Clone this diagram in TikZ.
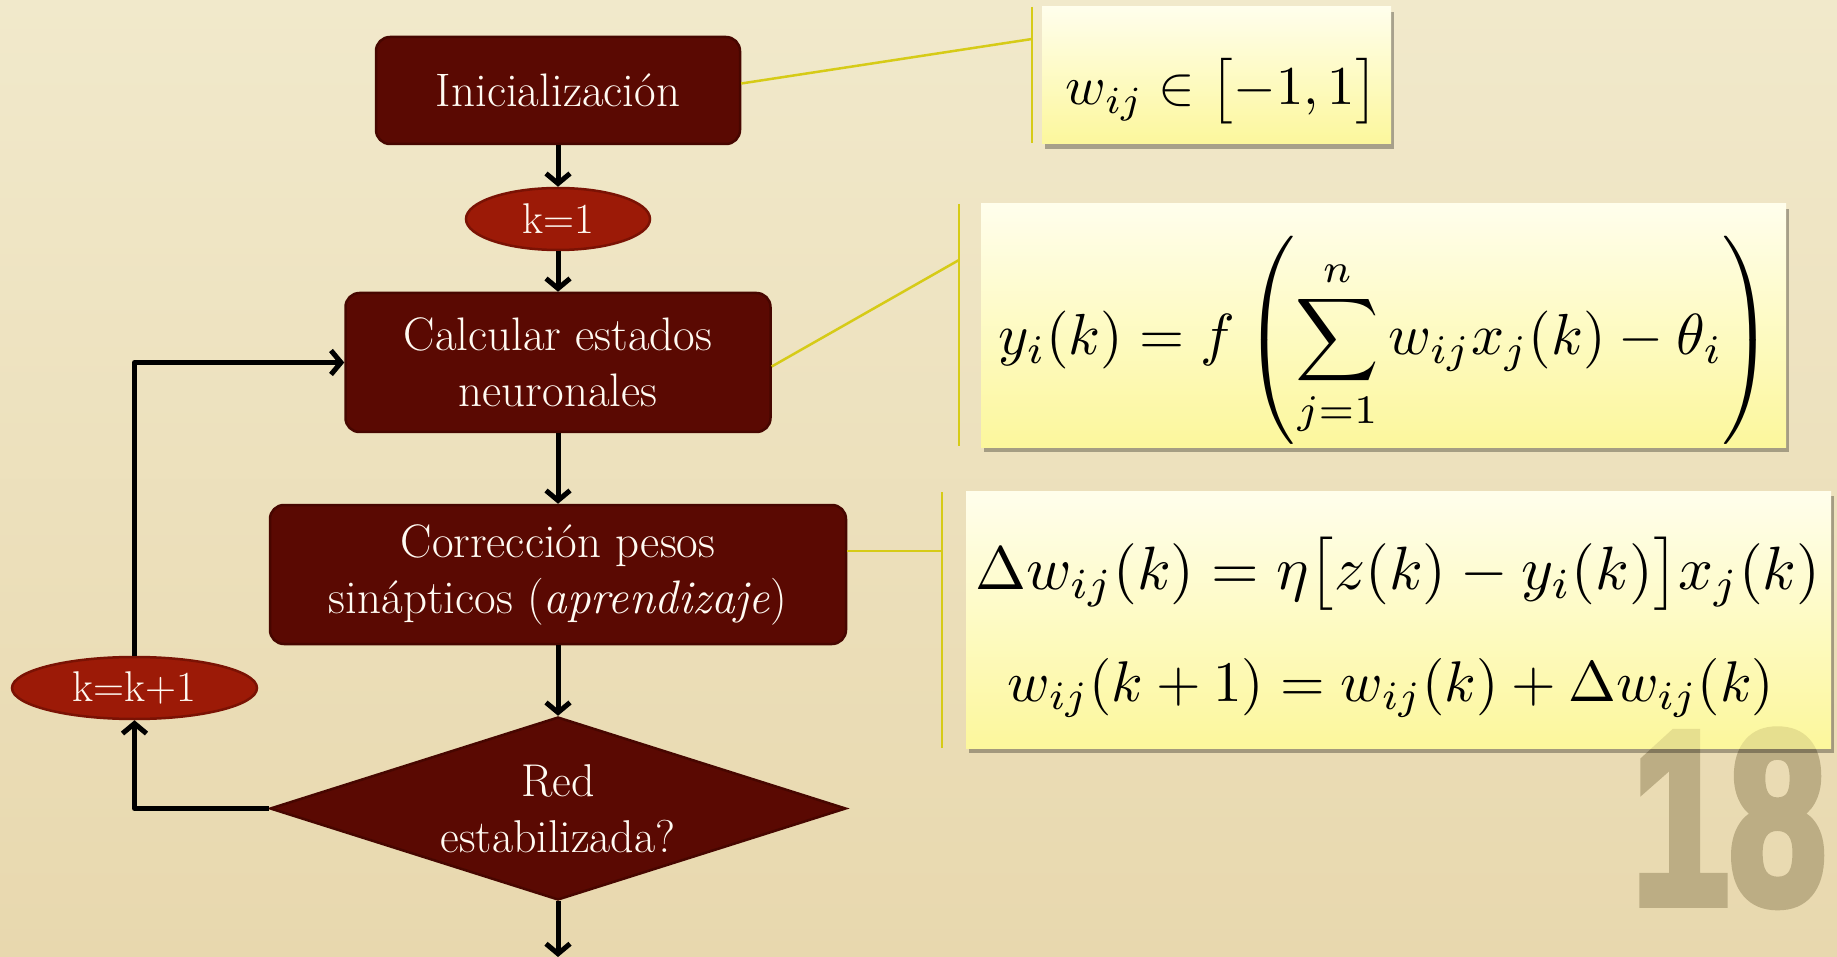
\documentclass[tikz,border=0pt]{standalone}
\usepackage{fontspec}
\usepackage{amsmath}
\usepackage{graphicx}
\usetikzlibrary{arrows.meta,shapes.geometric,shadows,calc}
\newfontfamily\numfont{Liberation Sans}[BoldFeatures={FakeBold=4}]
\definecolor{bgtop}{HTML}{F1E9CB}
\definecolor{bgbot}{HTML}{E8D8AE}
\definecolor{boxred}{HTML}{5A0902}
\definecolor{boxredline}{HTML}{470600}
\definecolor{ovalfill}{HTML}{9C1A07}
\definecolor{ovalline}{HTML}{7A1204}
\definecolor{callcol}{HTML}{D6CB17}
\definecolor{ftop}{HTML}{FFFEEC}
\definecolor{fbot}{HTML}{FCF79C}
\definecolor{numcol}{HTML}{BCAD84}
\definecolor{numcolbox}{HTML}{E6DF8F}
\definecolor{txtwhite}{HTML}{FFFAF2}
\begin{document}
\begin{tikzpicture}[x=1pt,y=-1pt,
  proc/.style={rectangle, rounded corners=14pt, fill=boxred, draw=boxredline, line width=2.5pt,
    text=txtwhite, align=center, font=\fontsize{47}{56}\selectfont, inner sep=0pt},
  ovalnode/.style={ellipse, fill=ovalfill, draw=ovalline, line width=2.5pt, text=txtwhite,
    inner sep=0pt, font=\fontsize{43}{56}\selectfont},
  decnode/.style={diamond, aspect=3.15, fill=boxred, draw=boxredline, line width=2.5pt,
    text=txtwhite, align=center, inner sep=0pt, font=\fontsize{46}{56}\selectfont},
  flow/.style={line width=5pt, line join=round, -{Straight Barb[length=10pt,width=24pt]}},
  calloutline/.style={draw=callcol, line width=2.5pt},
  formbox/.style={rectangle, inner sep=0pt, top color=ftop, bottom color=fbot,
    drop shadow={shadow xshift=3pt, shadow yshift=-5pt, opacity=0.3, fill=black}},
  bignum/.style={anchor=base, font=\numfont\bfseries\fontsize{246}{246}\selectfont},
]
% background
\shade[top color=bgtop, bottom color=bgbot] (0,0) rectangle (1837,957);
\useasboundingbox (0,0) rectangle (1837,957);

% page number watermark
\node[bignum, text=numcol] (num) at (1729,903) {\scalebox{0.71}[1]{18}};

% formula boxes
\node[formbox, minimum width=349pt, minimum height=137pt] (f1) at (1216.5,75.5) {};
\node[formbox, minimum width=805pt, minimum height=243pt] (f2) at (1383.5,325.5) {};
\node[formbox, minimum width=865pt, minimum height=257pt] (f3) at (1398.5,619.5) {};
\begin{scope}
  \clip (f3.north west) rectangle (f3.south east);
  \node[bignum, text=numcolbox] (numb) at (1729,903) {\scalebox{0.71}[1]{18}};
\end{scope}

% formulas
\node[anchor=base, inner sep=0pt] (m1) at (1222,105) {\resizebox{312pt}{!}{$w_{ij}\in\bigl[-1,1\bigr]$}};
\node[anchor=base, inner sep=0pt] (m2) at (1386,355) {\resizebox{775pt}{!}{$\displaystyle y_i(k)=f\left(\sum_{j=1}^{n} w_{ij}x_j(k)-\theta_i\right)$}};
\node[anchor=base, inner sep=0pt] (m3) at (1398,589) {\resizebox{845pt}{!}{$\Delta w_{ij}(k)=\eta\bigl[z(k)-y_i(k)\bigr]x_j(k)$}};
\node[anchor=base, inner sep=0pt] (m4) at (1391,701) {\resizebox{766pt}{!}{$w_{ij}(k+1)=w_{ij}(k)+\Delta w_{ij}(k)$}};

% flowchart nodes
\node[proc, minimum width=364pt, minimum height=107pt] (ini) at (558,90.5) {Inicialización};
\node[ovalnode, minimum width=184pt, minimum height=62pt] (k1) at (558,219) {k=1};
\node[proc, minimum width=425pt, minimum height=139pt] (calc) at (558,362.5) {Calcular estados\\neuronales};
\node[proc, minimum width=576pt, minimum height=139pt] (corr) at (558,574.5) {Corrección pesos\\sinápticos (\textit{aprendizaje})};
\node[decnode, minimum width=576pt, minimum height=183pt] (dec) at (558,808.5) {Red\\estabilizada?};
\node[ovalnode, minimum width=245pt, minimum height=62pt] (kk) at (134.5,688) {k=k+1};
\coordinate (out) at (558,957);

% callout bars and leaders
\coordinate (b1t) at (1032,7);   \coordinate (b1b) at (1032,143); \coordinate (b1m) at (1032,39);
\coordinate (b2t) at (959,204);  \coordinate (b2b) at (959,446);  \coordinate (b2m) at (959,260);
\coordinate (b3t) at (942,492);  \coordinate (b3b) at (942,748);  \coordinate (b3m) at (942,551);
\draw[calloutline] (b1t) -- (b1b);
\draw[calloutline] (b2t) -- (b2b);
\draw[calloutline] (b3t) -- (b3b);
\draw[calloutline] ([yshift=7pt]ini.east) -- (b1m);
\draw[calloutline] ([yshift=-4pt]calc.east) -- (b2m);
\draw[calloutline] (corr.east |- b3m) -- (b3m);

% flow connectors
\draw[flow] (ini.south) -- (k1.north);
\draw[flow] (k1.south) -- (calc.north);
\draw[flow] (calc.south) -- (corr.north);
\draw[flow] (corr.south) -- (dec.north);
\draw[flow] (dec.south) -- (out);
\draw[flow] (dec.west) -- (dec.west -| kk.south) -- (kk.south);
\draw[flow] (kk.north) -- (kk.north |- calc.west) -- (calc.west);
\end{tikzpicture}
\end{document}
